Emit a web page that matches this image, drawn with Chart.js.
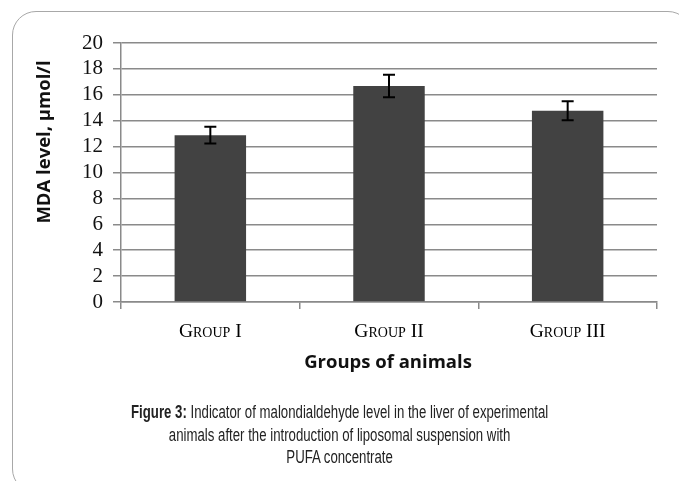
<!DOCTYPE html>
<html>
<head>
<meta charset="utf-8">
<script src="https://cdn.jsdelivr.net/npm/chart.js@4"></script>
<style>
  html, body { margin: 0; padding: 0; background: #fff; }
  body { width: 679px; height: 481px; position: relative; overflow: hidden; }
  #frame {
    position: absolute; left: 12px; top: 11px; width: 680px; height: 482px;
    border: 1px solid #a8a8a8; border-radius: 24px; box-sizing: border-box;
  }
  #wrap { position: absolute; left: 0; top: 0; width: 679px; height: 481px; }
  #caption {
    position: absolute; left: 0; top: 401px; width: 679px; text-align: center;
    font-family: "Liberation Sans", Arial, sans-serif; font-size: 17.5px;
    line-height: 22.5px; color: #222;
    transform: scaleX(0.755); transform-origin: 340px 0;
  }
</style>
</head>
<body>
<div id="frame"></div>
<div id="wrap"><canvas id="mdaChart" width="679" height="481"></canvas></div>
<div id="caption"><b>Figure 3:</b> Indicator of malondialdehyde level in the liver of experimental<br>animals after the introduction of liposomal suspension with<br>PUFA concentrate</div>
<script>
// ----------- DATA -----------
const groups = ["Group I", "Group II", "Group III"];
const mdaLevel = [12.88, 16.68, 14.77];
const mdaError = [0.65, 0.87, 0.74];
const yTicks = [0, 2, 4, 6, 8, 10, 12, 14, 16, 18, 20];

const gridColor = "#8a8a8a";

// error bars, drawn through the y scale
const errorBars = {
  id: "errorBars",
  afterDatasetsDraw(chart) {
    const ctx = chart.ctx;
    const y = chart.scales.y;
    const meta = chart.getDatasetMeta(0);
    ctx.save();
    ctx.strokeStyle = "#000";
    ctx.lineWidth = 2;
    meta.data.forEach((bar, i) => {
      const top = y.getPixelForValue(mdaLevel[i] + mdaError[i]);
      const bot = y.getPixelForValue(mdaLevel[i] - mdaError[i]);
      ctx.beginPath();
      ctx.moveTo(bar.x, top); ctx.lineTo(bar.x, bot);
      ctx.moveTo(bar.x - 6, top); ctx.lineTo(bar.x + 6, top);
      ctx.moveTo(bar.x - 6, bot); ctx.lineTo(bar.x + 6, bot);
      ctx.stroke();
    });
    ctx.restore();
  }
};

// axis titles
const axisTitles = {
  id: "axisTitles",
  afterDraw(chart) {
    const ctx = chart.ctx;
    ctx.save();
    ctx.fillStyle = "#111";
    ctx.font = "bold 18.5px 'Open Sans', sans-serif";
    ctx.textAlign = "center";
    ctx.textBaseline = "middle";
    ctx.fillText("Groups of animals", 388, 363);
    ctx.translate(45, 142);
    ctx.rotate(-Math.PI / 2);
    ctx.fillText("MDA level, µmol/l", 0, 0);
    ctx.restore();
  }
};

const ctx = document.getElementById("mdaChart").getContext("2d");
new Chart(ctx, {
  type: "bar",
  data: {
    labels: groups,
    datasets: [{
      label: "MDA level",
      data: mdaLevel,
      backgroundColor: "#424242",
      barPercentage: 0.4,
      categoryPercentage: 1
    }]
  },
  options: {
    responsive: false,
    animation: false,
    layout: { padding: { left: 0, right: 22, top: 43, bottom: 0 } },
    plugins: { legend: { display: false }, tooltip: { enabled: false } },
    scales: {
      x: {
        afterFit(scale) { scale.height = 481 - 302; },
        grid: { display: true, drawOnChartArea: false, drawTicks: true, tickLength: 7, color: gridColor, lineWidth: 1.5 },
        border: { color: gridColor, width: 1.5 },
        ticks: {
          color: "#000", padding: 11,
          font: { family: "'Liberation Serif', serif", size: 19.5, weight: "small-caps" }
        }
      },
      y: {
        min: 0, max: 20,
        afterFit(scale) { scale.width = 121; },
        afterBuildTicks(scale) { scale.ticks = yTicks.map(v => ({ value: v })); },
        grid: { color: gridColor, lineWidth: 1.5, tickLength: 8 },
        border: { color: gridColor, width: 1.5 },
        ticks: {
          color: "#111", padding: 10, autoSkip: false,
          font: { family: "'Liberation Serif', serif", size: 21 }
        }
      }
    }
  },
  plugins: [errorBars, axisTitles]
});
</script>
</body>
</html>
